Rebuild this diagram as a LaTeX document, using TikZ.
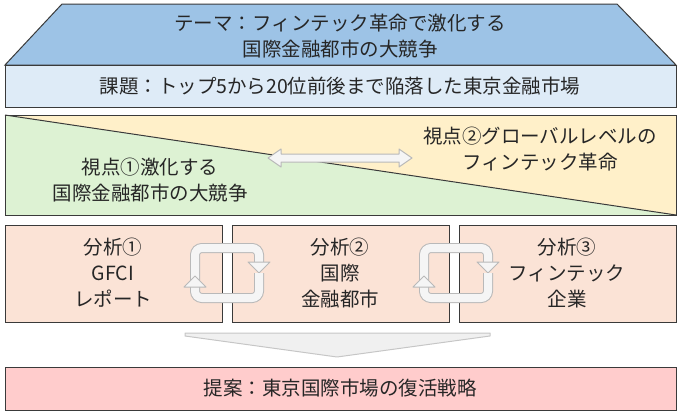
\documentclass[tikz,border=0pt]{standalone}
\usepackage{fontspec}
\setmainfont{Noto Sans CJK JP}
\definecolor{blueA}{HTML}{9DC3E6}
\definecolor{blueB}{HTML}{DEEBF7}
\definecolor{greenA}{HTML}{DDF2D3}
\definecolor{yellA}{HTML}{FFF0C9}
\definecolor{pinkA}{HTML}{FBE3D6}
\definecolor{pinkB}{HTML}{FFCCCC}
\definecolor{edge}{HTML}{3A3A3A}
\tikzset{x=1pt,y=-1pt,
  txt/.style={font=\fontsize{19.5}{26}\selectfont,align=center,text=black!85},
  boxs/.style={draw=edge,line width=1pt},
  cyc/.style={draw=gray!55,double=gray!8,double distance=8pt,line width=1pt,rounded corners=7pt},
  tip/.style={draw=gray!55,fill=gray!8,line width=1pt,line join=round}}
\begin{document}
\begin{tikzpicture}
\useasboundingbox (0,0) rectangle (680,415);
% theme
\draw[boxs,fill=blueA] (62,4) -- (617,4) -- (676,65) -- (5,65) -- cycle;
\node[txt] (theme) at (340,36) {テーマ：フィンテック革命で激化する\\国際金融都市の大競争};
\draw[boxs,fill=blueB] (5,65) rectangle (676,107);
\node[txt] (issue) at (340,86) {課題：トップ5から20位前後まで陥落した東京金融市場};
% viewpoints
\fill[yellA] (5,115) -- (676,115) -- (676,215) -- cycle;
\fill[greenA] (5,115) -- (676,215) -- (5,215) -- cycle;
\draw[boxs] (5,115) rectangle (676,215);
\draw[edge,line width=1pt] (5,115) -- (676,215);
\node[txt] (v1) at (150,180) {視点①激化する\\国際金融都市の大競争};
\node[txt] (v2) at (540,149) {視点②グローバルレベルの\\フィンテック革命};
\draw[tip] (268,158) -- (281,149) -- (281,154) -- (399,154) -- (399,149) -- (412,158) -- (399,167) -- (399,162) -- (281,162) -- (281,167) -- cycle;
% analysis boxes
\draw[boxs,fill=pinkA] (5,225) rectangle (222,322);
\draw[boxs,fill=pinkA] (232,225) rectangle (449,322);
\draw[boxs,fill=pinkA] (459,225) rectangle (676,322);
\node[txt] (a1) at (113,273) {分析①\\GFCI\\レポート};
\node[txt] (a2) at (340,273) {分析②\\国際\\金融都市};
\node[txt] (a3) at (567,273) {分析③\\フィンテック\\企業};
% cycle arrows
\foreach \dx in {0,229}{
  \begin{scope}[xshift=\dx]
  \draw[cyc] (195,280) -- (195,248) -- (259,248) -- (259,262);
  \draw[tip] (248,262) -- (270,262) -- (259,273) -- cycle;
  \draw[cyc] (259,273) -- (259,298) -- (195,298) -- (195,287);
  \draw[tip] (184,287) -- (206,287) -- (195,276) -- cycle;
  \end{scope}
}
% big down chevron
\draw[tip,draw=gray!45,fill=gray!12] (185,333) -- (490,333) -- (490,336) -- (337,357) -- (185,336) -- cycle;
% proposal
\draw[boxs,fill=pinkB] (5,367) rectangle (676,410);
\node[txt] (prop) at (340,388) {提案：東京国際市場の復活戦略};
\end{tikzpicture}
\end{document}
